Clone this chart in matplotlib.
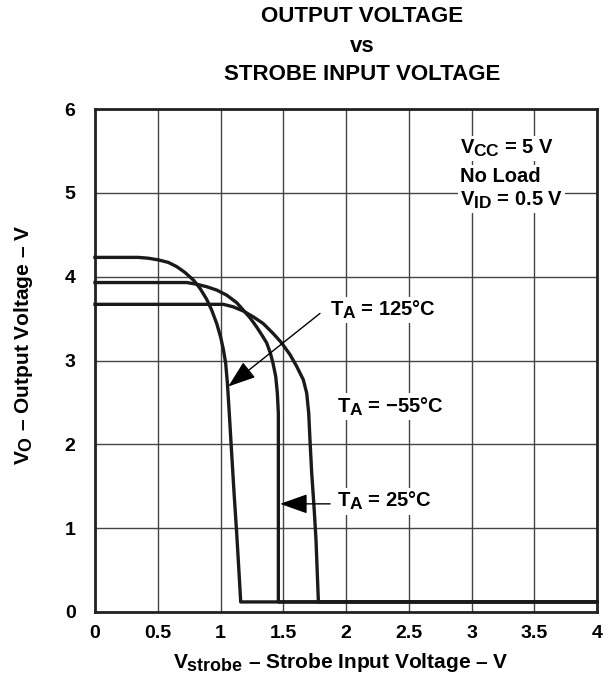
import matplotlib
matplotlib.use("Agg")
import matplotlib.pyplot as plt
import matplotlib._mathtext as _mt

_mt.SHRINK_FACTOR = 0.86

plt.rcParams['font.family'] = ['Liberation Sans', 'DejaVu Sans']
plt.rcParams['font.weight'] = 'bold'
plt.rcParams['axes.labelweight'] = 'bold'
plt.rcParams['mathtext.fontset'] = 'custom'
plt.rcParams['mathtext.rm'] = 'Liberation Sans:bold'
plt.rcParams['mathtext.it'] = 'Liberation Sans:bold'
plt.rcParams['mathtext.bf'] = 'Liberation Sans:bold'
plt.rcParams['mathtext.sf'] = 'Liberation Sans:bold'

# Data
x_125 = [0.0, 0.345, 0.425, 0.505, 0.584, 0.651, 0.717, 0.784, 0.837, 0.890, 0.930, 0.970,
         1.001, 1.023, 1.041, 1.055, 1.070, 1.089, 1.108, 1.129, 1.148, 1.161, 4.0]
y_125 = [4.23, 4.23, 4.22, 4.20, 4.17, 4.12, 4.05, 3.96, 3.86, 3.73, 3.60, 3.44,
         3.28, 3.13, 2.97, 2.73, 2.37, 1.89, 1.42, 0.94, 0.46, 0.12, 0.12]

x_25 = [0.0, 0.731, 0.810, 0.890, 0.970, 1.049, 1.129, 1.182, 1.235, 1.288, 1.331, 1.368,
        1.397, 1.418, 1.440, 1.453, 1.461, 1.461, 4.0]
y_25 = [3.93, 3.93, 3.91, 3.88, 3.84, 3.78, 3.69, 3.60, 3.51, 3.40, 3.30, 3.21,
        3.09, 2.97, 2.81, 2.61, 2.37, 0.12, 0.12]

x_m55 = [0.0, 0.943, 1.023, 1.102, 1.182, 1.262, 1.341, 1.421, 1.487, 1.554, 1.607, 1.660,
         1.687, 1.703, 1.713, 1.727, 1.745, 1.761, 1.780, 4.0]
y_m55 = [3.67, 3.67, 3.67, 3.64, 3.59, 3.52, 3.44, 3.32, 3.21, 3.07, 2.93, 2.77,
         2.61, 2.37, 2.05, 1.65, 1.26, 0.86, 0.12, 0.12]

x_ticks = [0, 0.5, 1, 1.5, 2, 2.5, 3, 3.5, 4]
x_ticklabels = ['0', '0.5', '1', '1.5', '2', '2.5', '3', '3.5', '4']
y_ticks = [0, 1, 2, 3, 4, 5, 6]
y_ticklabels = ['0', '1', '2', '3', '4', '5', '6']

fig = plt.figure(figsize=(6.13, 6.77), dpi=100)
ax = fig.add_axes([95/613, 1-612/677, 502/613, 503/677])

ax.set_xlim(0, 4)
ax.set_ylim(0, 6)
ax.set_xticks(x_ticks)
ax.set_xticklabels(x_ticklabels)
ax.set_yticks(y_ticks)
ax.set_yticklabels(y_ticklabels)
ax.tick_params(length=0, labelsize=14)
ax.tick_params(axis='x', pad=9)
ax.tick_params(axis='y', pad=14)
ax.grid(True, color='#444444', lw=1.0)
ax.set_axisbelow(True)
for s in ax.spines.values():
    s.set_linewidth(2.0)
    s.set_color('#222222')

lc = '#1a1a1a'
for xs, ys in [(x_125, y_125), (x_25, y_25), (x_m55, y_m55)]:
    ax.plot(xs, ys, color=lc, lw=2.4, solid_joinstyle='round', clip_on=False, zorder=3)

box = dict(facecolor='white', edgecolor='none', pad=1.5)
fs = 14.5
ax.text(2.908, 5.53, r'$V_{CC}$ = 5 V', fontsize=fs, va='center', ha='left', bbox=box, zorder=4)
ax.text(2.908, 5.19, 'No Load', fontsize=fs, va='center', ha='left', bbox=box, zorder=4)
ax.text(2.908, 4.91, r'$V_{ID}$ = 0.5 V', fontsize=fs, va='center', ha='left', bbox=box, zorder=4)

ax.text(1.873, 3.60, r'$T_A$ = 125°C', fontsize=fs, va='center', ha='left', bbox=box, zorder=4)
ax.text(1.926, 2.45, r'$T_A$ = −55°C', fontsize=fs, va='center', ha='left', bbox=box, zorder=4)
ax.text(1.926, 1.32, r'$T_A$ = 25°C', fontsize=fs, va='center', ha='left', bbox=box, zorder=4)

arrow = dict(arrowstyle='-|>,head_length=0.9,head_width=0.32', color='black', lw=1.0,
             shrinkA=0, shrinkB=0, mutation_scale=19)
ax.annotate('', xy=(1.062, 2.69), xytext=(1.793, 3.562), arrowprops=arrow, zorder=5)
ax.annotate('', xy=(1.475, 1.29), xytext=(1.873, 1.29), arrowprops=arrow, zorder=5)

fig.text(341/613, 1-663/677, r'$V_{strobe}$ – Strobe Input Voltage – V', ha='center', va='center', fontsize=15)
fig.text(24/613, 1-345/677, r'$V_O$ – Output Voltage – V', ha='center', va='center', fontsize=15, rotation=90)

fig.text(362/613, 1-17/677, 'OUTPUT VOLTAGE', ha='center', va='center', fontsize=16)
fig.text(362/613, 1-46/677, 'vs', ha='center', va='center', fontsize=16)
fig.text(362/613, 1-74/677, 'STROBE INPUT VOLTAGE', ha='center', va='center', fontsize=16)

fig.savefig('out.png', dpi=100)
